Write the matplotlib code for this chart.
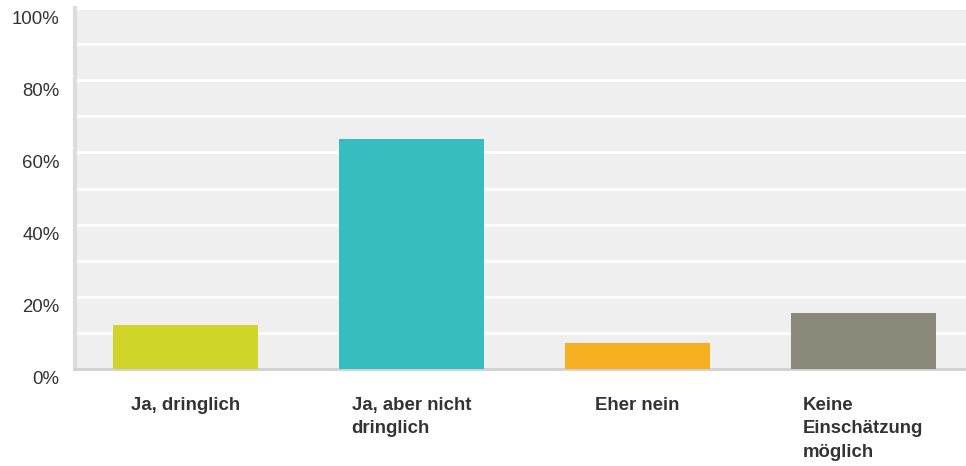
import matplotlib.pyplot as plt
from matplotlib.transforms import ScaledTranslation

plt.rcParams['font.family'] = ['Liberation Sans', 'DejaVu Sans']

# Umfrageergebnis (Anteil in %)
categories = ['Ja, dringlich', 'Ja, aber nicht\ndringlich', 'Eher nein', 'Keine\nEinschätzung\nmöglich']
values = [12.3, 63.7, 7.3, 15.6]
colors = ['#d0d52a', '#35bdbf', '#f6af20', '#888978']
yticks = [0, 20, 40, 60, 80, 100]
ytick_labels = ['0%', '20%', '40%', '60%', '80%', '100%']

fig = plt.figure(figsize=(9.66, 4.66), dpi=100)
ax = fig.add_axes([75 / 966, (466 - 369) / 466, 891 / 966, 361 / 466])
ax.set_facecolor('#efefef')

x = range(len(categories))
ax.bar(x, values, width=0.642, color=colors, zorder=3)

ax.set_xlim(-0.489, 3.454)
ax.set_ylim(0, 100)

# weisse Hilfslinien alle 10%
for v in range(10, 101, 10):
    ax.axhline(v, color='white', lw=2, zorder=1)

ax.set_yticks(yticks)
ax.set_yticklabels(ytick_labels, fontsize=13.4, color='#333333')
ax.tick_params(axis='y', length=0, pad=11)
for lab in ax.get_yticklabels():
    lab.set_transform(lab.get_transform() + ScaledTranslation(0, -9 / 100, fig.dpi_scale_trans))

ax.set_xticks(list(x))
ax.set_xticklabels(categories, fontsize=13.4, fontweight='bold', color='#333333',
                   multialignment='left', linespacing=1.5)
ax.tick_params(axis='x', length=0, pad=20)

for s in ['top', 'right']:
    ax.spines[s].set_visible(False)
ax.spines['left'].set_color('#dcdcdc')
ax.spines['left'].set_linewidth(3)
ax.spines['bottom'].set_color('#d0d0d0')
ax.spines['bottom'].set_linewidth(2)

fig.savefig('out.png', dpi=100)
